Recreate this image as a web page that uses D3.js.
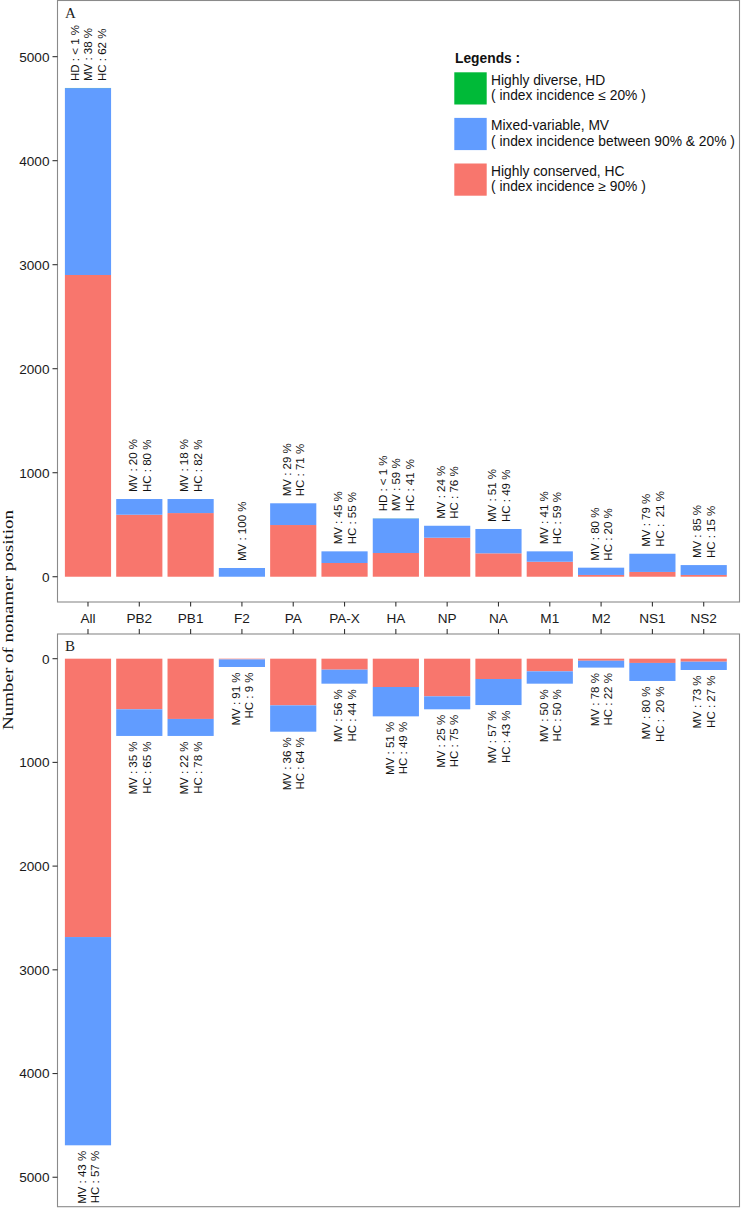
<!DOCTYPE html>
<html>
<head>
<meta charset="utf-8">
<script src="https://cdn.jsdelivr.net/npm/d3@7/dist/d3.min.js"></script>
<style>
  html, body { margin: 0; padding: 0; background: #fff; }
  svg { display: block; }
  text { white-space: pre; }
</style>
</head>
<body>
<svg id="chart" width="741" height="1208"></svg>
<script>
// ---------------- DATA ----------------
const categories = ["All","PB2","PB1","F2","PA","PA-X","HA","NP","NA","M1","M2","NS1","NS2"];

// Panel A (upper)
const A_HC = [2901, 596, 612, 0, 497, 132, 228, 375, 225, 144, 17, 46, 17];
const A_MV = [1797, 151, 135, 84, 209, 112, 332, 115, 234, 100, 70, 175, 95];
const A_HD = [1, 0, 0, 0, 0, 0, 1, 0, 0, 0, 0, 0, 0];
const A_labels = [
  ["HD : < 1 %","MV : 38 %","HC : 62 %"],
  ["MV : 20 %","HC : 80 %"],
  ["MV : 18 %","HC : 82 %"],
  ["MV : 100 %"],
  ["MV : 29 %","HC : 71 %"],
  ["MV : 45 %","HC : 55 %"],
  ["HD : < 1 %","MV : 59 %","HC : 41 %"],
  ["MV : 24 %","HC : 76 %"],
  ["MV : 51 %","HC : 49 %"],
  ["MV : 41 %","HC : 59 %"],
  ["MV : 80 %","HC : 20 %"],
  ["MV : 79 %","HC :  21 %"],
  ["MV : 85 %","HC : 15 %"]
];

// Panel B (lower, reversed axis)
const B_HC = [2684, 488, 581, 7, 450, 106, 273, 363, 196, 122, 20, 41, 29];
const B_MV = [2008, 257, 164, 73, 254, 135, 283, 125, 251, 119, 66, 174, 80];
const B_HD = [0, 0, 0, 0, 0, 0, 0, 0, 0, 0, 0, 0, 0];
const B_labels = [
  ["MV : 43 %","HC : 57 %"],
  ["MV : 35 %","HC : 65 %"],
  ["MV : 22 %","HC : 78 %"],
  ["MV : 91 %","HC : 9 %"],
  ["MV : 36 %","HC : 64 %"],
  ["MV : 56 %","HC : 44 %"],
  ["MV : 51 %","HC : 49 %"],
  ["MV : 25 %","HC : 75 %"],
  ["MV : 57 %","HC : 43 %"],
  ["MV : 50 %","HC : 50 %"],
  ["MV : 78 %","HC : 22 %"],
  ["MV : 80 %","HC :  20 %"],
  ["MV : 73 %","HC : 27 %"]
];

const yTicks = [0, 1000, 2000, 3000, 4000, 5000];

const seriesKeys = ["HC", "MV", "HD"];
const legendItems = [
  {key: "HD", l1: "Highly diverse, HD", l2: "( index incidence \u2264 20% )"},
  {key: "MV", l1: "Mixed-variable, MV", l2: "( index incidence between 90% & 20% )"},
  {key: "HC", l1: "Highly conserved, HC", l2: "( index incidence \u2265 90% )"}
];
const colors = {HD: "#00BA38", MV: "#619CFF", HC: "#F8766D"};

// ---------------- LAYOUT ----------------
const svg = d3.select("#chart");
const sans = "'Liberation Sans', Arial, Helvetica, sans-serif";
const serif = "'Liberation Serif', 'Times New Roman', serif";
const textCol = "#1a1a1a";
const panelL = 57.5, panelR = 739.5;

const x = d3.scaleBand().domain(categories).range([62.33, 729.37]).paddingInner(0.1).paddingOuter(0.05);

const yA = d3.scaleLinear().domain([-243, 5540]).range([602, 0.5]);
const yB = d3.scaleLinear().domain([-238, 5284]).range([634, 1206.7]);

function makeTable(hc, mv, hd) {
  return categories.map((c, i) => ({cat: c, HC: hc[i], MV: mv[i], HD: hd[i]}));
}
const stack = d3.stack().keys(seriesKeys);

function drawPanel(y, top, bottom, hc, mv, hd, labels, isTop, letter) {
  const g = svg.append("g");
  g.append("rect").attr("x", panelL).attr("y", top).attr("width", panelR - panelL).attr("height", bottom - top)
    .attr("fill", "#fff");

  const table = makeTable(hc, mv, hd);
  const stacked = stack(table);
  const bars = g.append("g");
  stacked.forEach(s => {
    bars.selectAll(null).data(s).enter().append("rect")
      .attr("x", d => x(d.data.cat))
      .attr("width", x.bandwidth())
      .attr("y", d => Math.min(y(d[0]), y(d[1])))
      .attr("height", d => Math.abs(y(d[1]) - y(d[0])))
      .attr("fill", colors[s.key]);
  });

  const totals = table.map(d => d.HC + d.MV + d.HD);
  const lh = 13.5;
  categories.forEach((c, i) => {
    const lines = labels[i];
    const n = lines.length;
    const cx = x(c) + x.bandwidth() / 2;
    lines.forEach((t, j) => {
      const off = (j - (n - 1) / 2) * lh + 0.5;
      const bx = cx + off + 4;
      const by = isTop ? y(totals[i]) - 7 : y(totals[i]) + 5.5;
      g.append("text")
        .attr("transform", `translate(${bx},${by}) rotate(-90)`)
        .attr("text-anchor", isTop ? "start" : "end")
        .attr("font-family", sans).attr("font-size", 11.5).attr("fill", "#111")
        .text(t);
    });
  });

  g.append("rect").attr("x", panelL).attr("y", top).attr("width", panelR - panelL).attr("height", bottom - top)
    .attr("fill", "none").attr("stroke", "#8a8a8a").attr("stroke-width", 1.1);

  yTicks.forEach(v => {
    g.append("line").attr("x1", panelL - 5).attr("x2", panelL).attr("y1", y(v)).attr("y2", y(v))
      .attr("stroke", "#333").attr("stroke-width", 1.1);
    g.append("text").attr("x", panelL - 8).attr("y", y(v)).attr("dy", "0.36em")
      .attr("text-anchor", "end").attr("font-family", sans).attr("font-size", 13.6).attr("fill", textCol)
      .text(v);
  });

  categories.forEach(c => {
    const cx = x(c) + x.bandwidth() / 2;
    if (isTop) {
      g.append("line").attr("x1", cx).attr("x2", cx).attr("y1", bottom).attr("y2", bottom + 4.5)
        .attr("stroke", "#333").attr("stroke-width", 1.1);
    } else {
      g.append("line").attr("x1", cx).attr("x2", cx).attr("y1", top - 5).attr("y2", top)
        .attr("stroke", "#333").attr("stroke-width", 1.1);
    }
  });

  g.append("text").attr("x", 65).attr("y", top + 17).attr("font-family", serif).attr("font-size", 15)
    .attr("fill", "#222").text(letter);
}

drawPanel(yA, 0.5, 602, A_HC, A_MV, A_HD, A_labels, true, "A");
drawPanel(yB, 634, 1206.7, B_HC, B_MV, B_HD, B_labels, false, "B");

categories.forEach(c => {
  svg.append("text").attr("x", x(c) + x.bandwidth() / 2).attr("y", 623.3)
    .attr("text-anchor", "middle").attr("font-family", sans).attr("font-size", 13.6).attr("fill", textCol)
    .text(c);
});

svg.append("text")
  .attr("transform", "translate(13,620) rotate(-90)")
  .attr("text-anchor", "middle")
  .attr("font-family", serif).attr("font-size", 15).attr("fill", "#111")
  .attr("textLength", 220).attr("lengthAdjust", "spacingAndGlyphs")
  .text("Number of nonamer position");

const lg = svg.append("g");
lg.append("text").attr("x", 455).attr("y", 62.7).attr("font-family", sans).attr("font-weight", "bold")
  .attr("font-size", 13.8).attr("fill", "#111").text("Legends :");
legendItems.forEach((it, i) => {
  const ky = 72.3 + i * 45.6;
  lg.append("rect").attr("x", 454.3).attr("y", ky).attr("width", 32.4).attr("height", 32.2)
    .attr("fill", colors[it.key]);
  lg.append("text").attr("x", 491).attr("y", ky + 12.4).attr("font-family", sans).attr("font-size", 13.8)
    .attr("fill", "#111").text(it.l1);
  lg.append("text").attr("x", 491).attr("y", ky + 27.8).attr("font-family", sans).attr("font-size", 13.8)
    .attr("fill", "#111").text(it.l2);
});
</script>
</body>
</html>
